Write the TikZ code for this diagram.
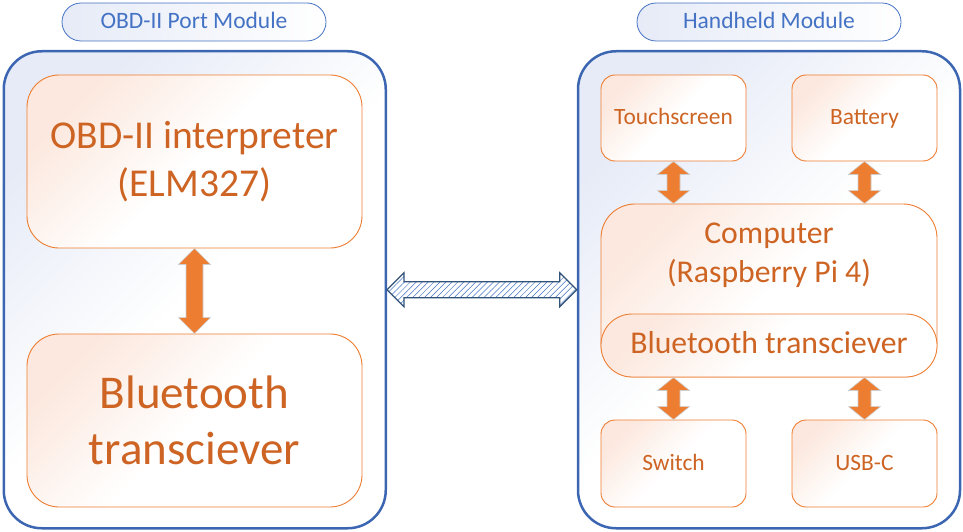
\documentclass[tikz,border=0pt]{standalone}
\usepackage{fontspec}
\setmainfont{Carlito}
\usetikzlibrary{calc,patterns.meta}
\definecolor{oblue}{RGB}{60,102,178}
\definecolor{tblue}{RGB}{68,114,196}
\definecolor{bluetint}{RGB}{230,235,247}
\definecolor{oorange}{RGB}{237,125,49}
\definecolor{ltext}{RGB}{205,100,35}
\definecolor{peach}{RGB}{252,232,222}
\definecolor{hatchline}{RGB}{50,82,120}
\definecolor{arrowedge}{RGB}{205,205,205}
\tikzset{
  outerbox/.style={draw=oblue, line width=2.5pt, rounded corners=38pt,
    top color=bluetint, bottom color=white, middle color=white, shading angle=45,
    minimum width=382pt, minimum height=477pt, inner sep=0pt},
  titlebox/.style={draw=tblue, line width=0.8pt, rounded corners=19pt,
    left color=bluetint, right color=white,
    minimum width=264pt, minimum height=38pt, inner sep=0pt, text=tblue,
    text height=18pt, text depth=4pt,
    font=\fontsize{23.5}{28}\selectfont},
  innerbox/.style={draw=oorange, line width=0.9pt, rounded corners=#1,
    top color=peach, bottom color=white, middle color=white, shading angle=45,
    inner sep=0pt, text=ltext, align=center},
  innerbox/.default=32pt,
  smallbox/.style={innerbox=14pt, minimum width=145pt, minimum height=86pt,
    text height=17pt, text depth=4pt, font=\fontsize{23.4}{28}\selectfont},
  fatarrow/.style={fill=oorange, draw=arrowedge, line width=0.6pt},
  hatcharrow/.style={draw=hatchline, line width=1.1pt, line join=miter,
    preaction={fill=white},
    pattern={Lines[angle=45,distance=4.2pt,line width=0.5pt]}, pattern color=tblue},
}
% vertical double-headed fat arrow: top point, bottom point, head half-width, shaft half-width, head length
\newcommand{\vfat}[5]{%
  \draw[fatarrow] let \p1=(#1), \p2=(#2) in
    (\x1,\y1) -- (\x1+#3,\y1-#5) -- (\x1+#4,\y1-#5) -- (\x1+#4,\y2+#5) -- (\x1+#3,\y2+#5)
    -- (\x1,\y2) -- (\x1-#3,\y2+#5) -- (\x1-#4,\y2+#5) -- (\x1-#4,\y1-#5) -- (\x1-#3,\y1-#5) -- cycle;}
\begin{document}
\begin{tikzpicture}[x=1pt,y=-1pt]
\useasboundingbox (0,0) rectangle (963,532);

% modules
\node[outerbox] (outerL) at (194.75,289.75) {};
\node[outerbox] (outerR) at (769,289.75) {};
\node[titlebox] (titleL) at (194,22) {OBD-II Port Module};
\node[titlebox] (titleR) at (769,22) {Handheld Module};

% left module
\node[innerbox, minimum width=335pt, minimum height=173pt,
  font=\fontsize{39.5}{47.5}\selectfont] (obd) at (194.5,161.5) {OBD-II interpreter\\(ELM327)};
\node[innerbox, minimum width=335pt, minimum height=173pt,
  font=\fontsize{47}{56.5}\selectfont] (btL) at (194.5,420.5) {Bluetooth\\transciever};

% right module
\node[smallbox] (touch) at (673.5,118) {Touchscreen};
\node[smallbox] (battery) at (864.5,118) {Battery};
\node[smallbox, minimum height=87pt] (switch) at (673.5,463.5) {Switch};
\node[smallbox, minimum height=87pt] (usbc) at (864.5,463.5) {USB-C};
\node[innerbox=34pt, minimum width=336pt, minimum height=173pt] (computer) at (769,290.5) {};
\node[text=ltext, align=center, inner sep=0pt,
  font=\fontsize{31.7}{39}\selectfont] (comptext) at (769,255) {Computer\\(Raspberry Pi 4)};
\node[innerbox=31pt, minimum width=336pt, minimum height=63pt, text height=22pt, text depth=7pt,
  font=\fontsize{31.7}{39}\selectfont] (btR) at (769,345.5) {Bluetooth transciever};

% orange arrows
\vfat{obd.south}{btL.north}{16pt}{8.5pt}{16pt}
\vfat{touch.south}{touch.south |- computer.north}{16pt}{6.5pt}{13pt}
\vfat{battery.south}{battery.south |- computer.north}{16pt}{6.5pt}{13pt}
\vfat{switch.north |- btR.south}{switch.north}{16pt}{6.5pt}{13pt}
\vfat{usbc.north |- btR.south}{usbc.north}{16pt}{6.5pt}{13pt}

% wireless link
\draw[hatcharrow] let \p1=(outerL.east), \p2=(outerR.west) in
  (\x1,\y1) -- (\x1+17pt,\y1+17pt) -- (\x1+17pt,\y1+8pt) -- (\x2-17pt,\y1+8pt) -- (\x2-17pt,\y1+17pt)
  -- (\x2,\y1) -- (\x2-17pt,\y1-17pt) -- (\x2-17pt,\y1-8pt) -- (\x1+17pt,\y1-8pt) -- (\x1+17pt,\y1-17pt) -- cycle;
\end{tikzpicture}
\end{document}
